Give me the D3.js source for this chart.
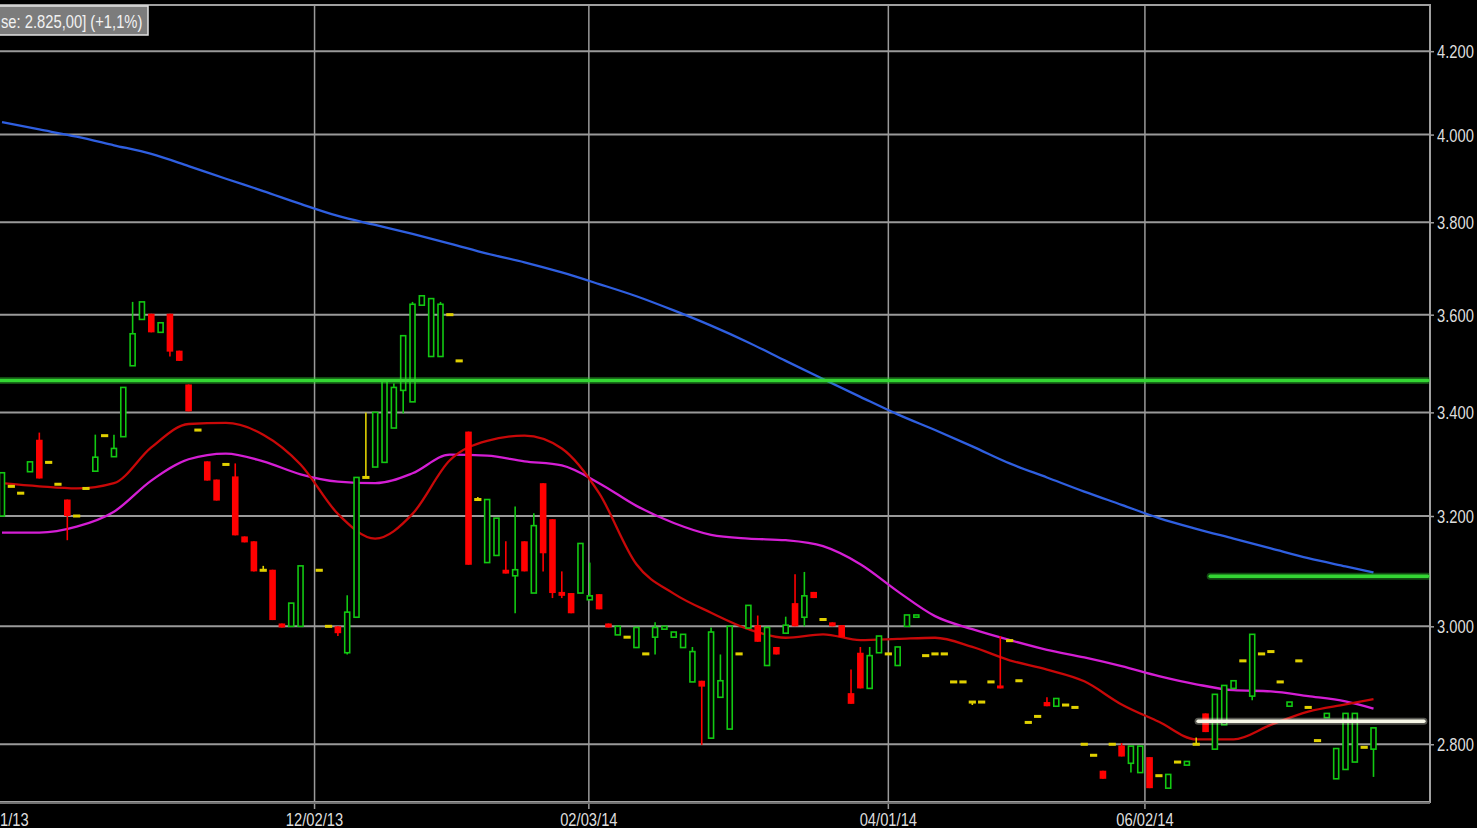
<!DOCTYPE html>
<html>
<head>
<meta charset="utf-8">
<script src="https://cdn.jsdelivr.net/npm/d3@7"></script>
<style>
  html, body { margin: 0; padding: 0; background: #000; overflow: hidden; }
  svg { display: block; }
  text { font-family: Arial, "Liberation Sans", sans-serif; }
</style>
</head>
<body>
<div id="chart"></div>
<script>
// daily candles, index 0..147 (index 33 has no bar)
const openPrices = [
  3200, 3256, 3243, 3284, 3346, 3302, 3260, 3231, 3200, 3252,
  3285, 3354, 3313, 3352, 3494, 3590, 3602, 3563, 3602, 3525,
  3456, 3365, 3304, 3269, 3298, 3275, 3162, 3153, 3100, 3101,
  3005, 3000, 3000, null, 3100, 3000, 3000, 2954, 3016, 3273,
  3293, 3302, 3369, 3444, 3421, 3620, 3513, 3513, 3600, 3504,
  3362, 3231, 3114, 3127, 3101, 3090, 3153, 3059, 3262, 3194,
  3061, 3059, 3059, 3047, 3057, 3005, 2985, 2981, 2963, 2952,
  2981, 2995, 2981, 2963, 2904, 2906, 2810, 2878, 2825, 2952,
  2997, 3002, 2932, 2964, 2988, 3041, 3016, 3061, 3012, 3007,
  3002, 2885, 2954, 2893, 2954, 2952, 2932, 3000, 3016, 2949,
  2952, 2952, 2904, 2904, 2870, 2870, 2904, 2898, 2975, 2906,
  2836, 2846, 2870, 2863, 2865, 2861, 2800, 2782, 2757, 2800,
  2798, 2769, 2754, 2779, 2749, 2729, 2771, 2766, 2800, 2851,
  2792, 2832, 2893, 2940, 2880, 2952, 2956, 2904, 2863, 2940,
  2861, 2806, 2844, 2744, 2759, 2771, 2795, 2792
];
const highPrices = [
  3282, 3256, 3243, 3303, 3360, 3302, 3260, 3231, 3200, 3252,
  3356, 3354, 3356, 3450, 3627, 3627, 3602, 3583, 3602, 3525,
  3456, 3365, 3304, 3269, 3298, 3300, 3162, 3153, 3108, 3101,
  3005, 3041, 3108, null, 3100, 3000, 3000, 3055, 3273, 3400,
  3400, 3462, 3458, 3556, 3627, 3640, 3634, 3627, 3600, 3504,
  3362, 3236, 3231, 3196, 3153, 3218, 3153, 3205, 3262, 3194,
  3098, 3059, 3149, 3114, 3057, 3005, 3000, 2981, 2998, 2952,
  3007, 3000, 2990, 2986, 2964, 2906, 2998, 2951, 3000, 2952,
  3037, 3019, 2998, 2964, 3017, 3093, 3097, 3061, 3012, 3007,
  3002, 2925, 2964, 2964, 2983, 2952, 2964, 3020, 3020, 2949,
  2952, 2952, 2904, 2904, 2870, 2870, 2904, 2983, 2975, 2906,
  2836, 2846, 2878, 2876, 2865, 2861, 2800, 2782, 2757, 2800,
  2802, 2797, 2797, 2779, 2749, 2751, 2771, 2772, 2811, 2851,
  2883, 2898, 2906, 2940, 2986, 2952, 2956, 2904, 2870, 2940,
  2861, 2806, 2851, 2793, 2851, 2851, 2795, 2827
];
const lowPrices = [
  3200, 3256, 3243, 3284, 3271, 3302, 3260, 3155, 3200, 3252,
  3285, 3354, 3313, 3352, 3494, 3590, 3563, 3563, 3513, 3504,
  3402, 3365, 3267, 3229, 3298, 3164, 3151, 3098, 3100, 3011,
  2998, 3000, 3000, null, 3100, 3000, 2983, 2951, 3016, 3273,
  3293, 3302, 3369, 3398, 3421, 3620, 3513, 3513, 3600, 3504,
  3110, 3231, 3114, 3127, 3094, 3023, 3098, 3059, 3098, 3050,
  3050, 3023, 3059, 3047, 3030, 2998, 2985, 2981, 2963, 2952,
  2951, 2995, 2981, 2963, 2904, 2799, 2810, 2878, 2825, 2952,
  2997, 2973, 2932, 2951, 2988, 3000, 3000, 3050, 3012, 3000,
  2981, 2867, 2893, 2893, 2954, 2952, 2932, 3000, 3016, 2949,
  2952, 2952, 2904, 2904, 2865, 2870, 2904, 2893, 2975, 2906,
  2836, 2846, 2863, 2863, 2865, 2861, 2800, 2782, 2744, 2800,
  2780, 2754, 2754, 2729, 2749, 2729, 2771, 2766, 2800, 2820,
  2792, 2832, 2893, 2940, 2873, 2952, 2956, 2904, 2863, 2940,
  2861, 2806, 2844, 2744, 2759, 2771, 2795, 2747
];
const closePrices = [
  3282, 3256, 3243, 3303, 3271, 3302, 3260, 3200, 3200, 3252,
  3312, 3354, 3329, 3450, 3560, 3627, 3563, 3583, 3523, 3504,
  3402, 3365, 3267, 3229, 3298, 3164, 3151, 3098, 3100, 3011,
  2998, 3041, 3108, null, 3100, 3000, 2988, 3025, 3273, 3273,
  3400, 3462, 3450, 3556, 3622, 3640, 3634, 3622, 3600, 3504,
  3110, 3231, 3231, 3196, 3094, 3101, 3098, 3182, 3131, 3059,
  3054, 3023, 3149, 3054, 3030, 2998, 3000, 2981, 2998, 2952,
  2998, 3000, 2990, 2986, 2956, 2896, 2990, 2906, 3000, 2952,
  3037, 2973, 2998, 2951, 3002, 3000, 3054, 3050, 3012, 3000,
  2981, 2867, 2893, 2949, 2983, 2952, 2964, 3020, 3020, 2949,
  2952, 2952, 2904, 2904, 2870, 2870, 2904, 2893, 2975, 2906,
  2836, 2846, 2863, 2876, 2865, 2861, 2800, 2782, 2744, 2800,
  2780, 2797, 2797, 2729, 2749, 2751, 2771, 2772, 2800, 2820,
  2883, 2898, 2906, 2940, 2986, 2952, 2956, 2904, 2870, 2940,
  2861, 2806, 2851, 2793, 2851, 2851, 2795, 2827
];

// moving averages, read at every 4th bar
const maIndex = [0, 4, 8, 12, 16, 20, 24, 28, 32, 36, 40, 44, 48, 52, 56, 60, 64, 68, 72,
  76, 80, 84, 88, 92, 96, 100, 104, 108, 112, 116, 120, 124, 128, 132, 136, 140, 144, 147];
const blueMA = [4029, 4012, 3995, 3975, 3955, 3927, 3898, 3870, 3841, 3814, 3794, 3774, 3753,
  3731, 3712, 3690, 3665, 3639, 3609, 3577, 3542, 3504, 3467, 3431, 3396, 3365, 3333, 3300,
  3273, 3246, 3221, 3196, 3176, 3158, 3140, 3122, 3107, 3096];
const redMA = [3262, 3256, 3252, 3262, 3331, 3377, 3379, 3356, 3298, 3204, 3158, 3204, 3306,
  3344, 3354, 3329, 3243, 3111, 3058, 3024, 2995, 2980, 2986, 2976, 2978, 2980, 2964, 2941,
  2925, 2905, 2866, 2837, 2808, 2808, 2832, 2854, 2866, 2875];
const magentaMA = [3169, 3169, 3180, 3208, 3267, 3308, 3319, 3304, 3279, 3265, 3262, 3281, 3317,
  3315, 3304, 3296, 3262, 3219, 3187, 3165, 3158, 3155, 3144, 3111, 3062, 3018, 2995, 2976,
  2959, 2946, 2931, 2914, 2900, 2890, 2888, 2880, 2871, 2859];

// drawn support / resistance levels
const levelValues = [3464, 3089, 2838];
const levelStart = [-0.3, 129.5, 128.2];
const levelEnd = [152.8, 152.8, 152.4];
const levelColors = ["#33d633", "#33d633", "#f6f6e6"];

// axes (first date label is cut at the left edge in the original)
const yTicks = [2800, 3000, 3200, 3400, 3600, 3800, 4000, 4200];
const xTickIndex = [33.5, 62.9, 95, 122.5];
const xTickLabels = ["12/02/13", "02/03/14", "04/01/14", "06/02/14"];
const firstDateLabel = "1/13";

const headerText = "se: 2.825,00] (+1,1%)";

const width = 1477, height = 828;
const frame = { left: 0, right: 1430, top: 5, bottom: 802 };

const svg = d3.select("#chart").append("svg")
  .attr("width", width)
  .attr("height", height);

svg.append("rect").attr("width", width).attr("height", height).attr("fill", "#000");

const xScale = d3.scaleLinear().domain([0, 147]).range([2, 1373.5]);
const yScale = d3.scaleLog().domain([2707, 4315]).range([frame.bottom, frame.top]);

const numFormat = d3.formatLocale({ decimal: ",", thousands: ".", grouping: [3], currency: ["", ""] }).format(",");

svg.append("clipPath").attr("id", "plot-clip")
  .append("rect")
  .attr("x", frame.left).attr("y", frame.top)
  .attr("width", frame.right - frame.left).attr("height", frame.bottom - frame.top);

// grid
const grid = svg.append("g").attr("id", "grid");
grid.selectAll(".hgrid").data(yTicks).enter().append("line")
  .attr("x1", frame.left).attr("x2", frame.right)
  .attr("y1", (d) => yScale(d)).attr("y2", (d) => yScale(d))
  .attr("stroke", "#9a9a9a").attr("stroke-width", 2);
grid.selectAll(".vgrid").data(xTickIndex).enter().append("line")
  .attr("x1", (d) => xScale(d)).attr("x2", (d) => xScale(d))
  .attr("y1", frame.top).attr("y2", frame.bottom + 7)
  .attr("stroke", "#9a9a9a").attr("stroke-width", 1.5);

// frame: top, right and bottom
grid.append("path")
  .attr("d", `M${frame.left},${frame.top}H${frame.right}V${frame.bottom}H${frame.left}`)
  .attr("fill", "none").attr("stroke", "#a0a0a0").attr("stroke-width", 2);
grid.append("line")
  .attr("x1", frame.left).attr("x2", frame.right)
  .attr("y1", frame.bottom + 1).attr("y2", frame.bottom + 1)
  .attr("stroke", "#707070").attr("stroke-width", 2);

// y-axis on the right
const yAxis = svg.append("g")
  .attr("id", "y-axis")
  .attr("transform", `translate(${frame.right},0)`)
  .call(d3.axisRight(yScale).tickValues(yTicks).tickFormat(numFormat).tickSize(4).tickSizeOuter(0).tickPadding(5));
yAxis.select(".domain").remove();
yAxis.selectAll(".tick line").attr("stroke", "#a0a0a0").attr("stroke-width", 1.5);
yAxis.selectAll(".tick text")
  .attr("fill", "#dedede")
  .attr("font-size", 18)
  .attr("x", 8.5)
  .attr("dy", "0.36em")
  .attr("transform", "scale(0.82,1)");

// x-axis labels at the bottom
const xAxis = svg.append("g").attr("id", "x-axis");
xAxis.selectAll("text").data(xTickIndex).enter().append("text")
  .attr("transform", (d) => `translate(${xScale(d)},826) scale(0.82,1)`)
  .attr("text-anchor", "middle")
  .attr("font-size", 18)
  .attr("fill", "#dedede")
  .text((d, i) => xTickLabels[i]);
xAxis.append("text")
  .attr("transform", "translate(0,826) scale(0.82,1)")
  .attr("font-size", 18)
  .attr("fill", "#dedede")
  .text(firstDateLabel);

const plot = svg.append("g").attr("clip-path", "url(#plot-clip)");

// moving averages
const maLine = (values) => d3.line()
  .x((d, i) => xScale(maIndex[i]))
  .y((d) => yScale(d))
  .curve(d3.curveMonotoneX)(values);

[[blueMA, "#2f5fe0"], [magentaMA, "#d41ed4"], [redMA, "#c80808"]].forEach(([values, color]) => {
  plot.append("path")
    .attr("d", maLine(values))
    .attr("fill", "none")
    .attr("stroke", color)
    .attr("stroke-width", 2.3);
});

// candles
const candles = d3.range(openPrices.length)
  .filter((i) => openPrices[i] !== null)
  .map((i) => ({ i, o: openPrices[i], h: highPrices[i], l: lowPrices[i], c: closePrices[i] }));
const candleColor = (d) => (d.c > d.o ? "#12c812" : d.c < d.o ? "#ff0000" : "#e0d000");
const bodyW = 6.6;

const candleGroups = plot.append("g").attr("id", "candles")
  .selectAll("g").data(candles).enter().append("g");

candleGroups.append("line")
  .attr("x1", (d) => xScale(d.i)).attr("x2", (d) => xScale(d.i))
  .attr("y1", (d) => yScale(d.h)).attr("y2", (d) => yScale(d.l))
  .attr("stroke", candleColor)
  .attr("stroke-width", 1.6);

// rising: hollow green
candleGroups.filter((d) => d.c > d.o).append("rect")
  .attr("x", (d) => xScale(d.i) - bodyW / 2 + 0.8)
  .attr("y", (d) => yScale(d.c))
  .attr("width", bodyW - 1.6)
  .attr("height", (d) => Math.max(yScale(d.o) - yScale(d.c), 1.5))
  .attr("fill", "#000")
  .attr("stroke", candleColor)
  .attr("stroke-width", 1.6);

// falling: filled red
candleGroups.filter((d) => d.c < d.o).append("rect")
  .attr("x", (d) => xScale(d.i) - bodyW / 2)
  .attr("y", (d) => yScale(d.o))
  .attr("width", bodyW)
  .attr("height", (d) => Math.max(yScale(d.c) - yScale(d.o), 3))
  .attr("fill", candleColor);

// unchanged: yellow dash
candleGroups.filter((d) => d.c === d.o).append("rect")
  .attr("x", (d) => xScale(d.i) - 3.6)
  .attr("y", (d) => yScale(d.o) - 1.5)
  .attr("width", 7.2)
  .attr("height", 3)
  .attr("fill", candleColor);

// horizontal levels on top
const levels = plot.append("g").attr("id", "levels");
levelValues.forEach((v, k) => {
  levels.append("line")
    .attr("x1", xScale(levelStart[k])).attr("x2", xScale(levelEnd[k]))
    .attr("y1", yScale(v)).attr("y2", yScale(v))
    .attr("stroke", levelColors[k]).attr("stroke-opacity", 0.35)
    .attr("stroke-width", 7).attr("stroke-linecap", "round");
  levels.append("line")
    .attr("x1", xScale(levelStart[k])).attr("x2", xScale(levelEnd[k]))
    .attr("y1", yScale(v)).attr("y2", yScale(v))
    .attr("stroke", levelColors[k])
    .attr("stroke-width", 3.5).attr("stroke-linecap", "round");
});

// header box
svg.append("rect")
  .attr("x", -2).attr("y", 6)
  .attr("width", 150).attr("height", 29)
  .attr("fill", "#7c7c7c")
  .attr("stroke", "#e2e2e2").attr("stroke-width", 1.5);
svg.append("text")
  .attr("transform", "translate(1,28) scale(0.82,1)")
  .attr("font-size", 18)
  .attr("fill", "#f2f2f2")
  .text(headerText);
</script>
</body>
</html>
